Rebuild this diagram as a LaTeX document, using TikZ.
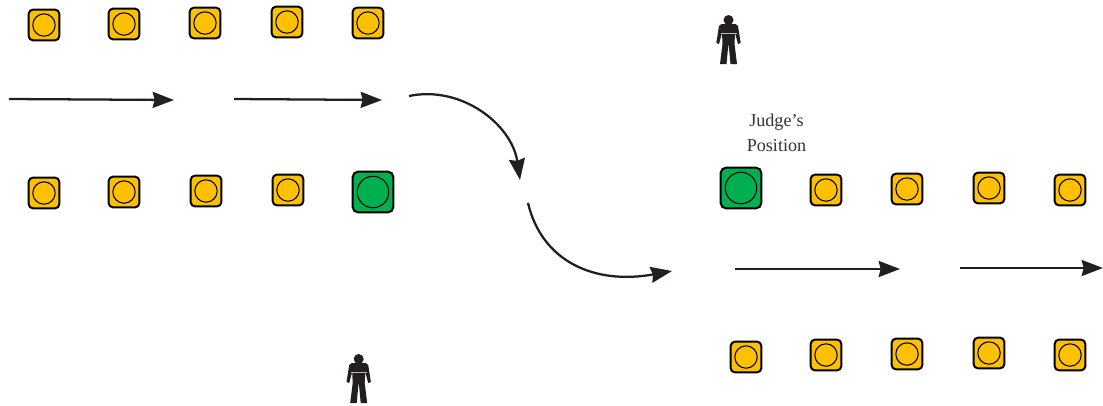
\documentclass[tikz,border=0pt]{standalone}
\usepackage{fontspec}
\setmainfont{Liberation Serif}
\usetikzlibrary{arrows.meta}
\definecolor{conea}{RGB}{255,192,0}
\definecolor{coneb}{RGB}{0,176,80}
\definecolor{ink}{RGB}{35,31,32}
\tikzset{
  x=0.75pt,y=-0.75pt,
  cone/.style={draw=black,line width=1.5pt,rounded corners=3.2pt,minimum size=23pt,inner sep=0pt,fill=conea,
    path picture={\draw[black,line width=0.8pt] (path picture bounding box.center) circle (8.4pt);}},
  bigcone/.style={draw=black,line width=1.5pt,rounded corners=4pt,minimum size=30.5pt,inner sep=0pt,fill=coneb,
    path picture={\draw[black,line width=0.8pt] (path picture bounding box.center) circle (11.8pt);}},
  flow/.style={draw=ink,line width=1.7pt,-{Stealth[length=16pt,width=12pt,inset=1.5pt]}},
  lab/.style={font=\fontsize{13.6}{18.8}\selectfont,text=black!80,align=center},
  person/.pic={
    \fill[ink] (0,-20) circle (5);
    \fill[ink] (-7,-16) -- (7,-16) -- (9.5,-14) -- (12.2,3) -- (9.5,4) -- (6.5,-7) -- (6,4) -- (8.5,24) -- (2,24) -- (0.2,5) -- (-0.2,5) -- (-2,24) -- (-8.5,24) -- (-6,4) -- (-6.5,-7) -- (-9.5,4) -- (-12.2,3) -- (-9.5,-14) -- cycle;
    \draw[white!70!ink,line width=0.25pt] (-8,-7) -- (8,-7);
  }
}
\begin{document}
\begin{tikzpicture}
\useasboundingbox (0,0) rectangle (1103,405);
\node[cone] (a1) at (44,25) {};
\node[cone] (a2) at (124,24) {};
\node[cone] (a3) at (205,23) {};
\node[cone] (a4) at (287,22) {};
\node[cone] (a5) at (368,23) {};
\node[cone] (b1) at (44,193) {};
\node[cone] (b2) at (124,192) {};
\node[cone] (b3) at (206,191) {};
\node[cone] (b4) at (288,190) {};
\node[bigcone] (b5) at (373,192) {};
\node[bigcone] (c1) at (741,188) {};
\node[cone] (c2) at (826,190) {};
\node[cone] (c3) at (907,189) {};
\node[cone] (c4) at (989,188) {};
\node[cone] (c5) at (1070,190) {};
\node[cone] (d1) at (746,357) {};
\node[cone] (d2) at (826,355) {};
\node[cone] (d3) at (907,354) {};
\node[cone] (d4) at (989,353) {};
\node[cone] (d5) at (1070,355) {};
\node[lab] (judge) at (776.5,132.5) {Judge’s\\Position};
\coordinate (s1) at (9,99); \coordinate (e1) at (174,100);
\coordinate (s2) at (234,99); \coordinate (e2) at (382,100);
\coordinate (s3) at (409,96); \coordinate (e3) at (520,180);
\coordinate (s4) at (528,203); \coordinate (e4) at (672,271);
\coordinate (s5) at (735,269); \coordinate (e5) at (900,269);
\coordinate (s6) at (960,268); \coordinate (e6) at (1103,268);
\draw[flow] (s1) -- (e1);
\draw[flow] (s2) -- (e2);
\draw[flow] (s3) .. controls (462,85) and (512,125) .. (e3);
\draw[flow] (s4) .. controls (542,262) and (595,285) .. (e4);
\draw[flow] (s5) -- (e5);
\draw[flow] (s6) -- (e6);
\pic at (358.7,379) {person};
\pic at (728.5,40) {person};
\end{tikzpicture}
\end{document}
